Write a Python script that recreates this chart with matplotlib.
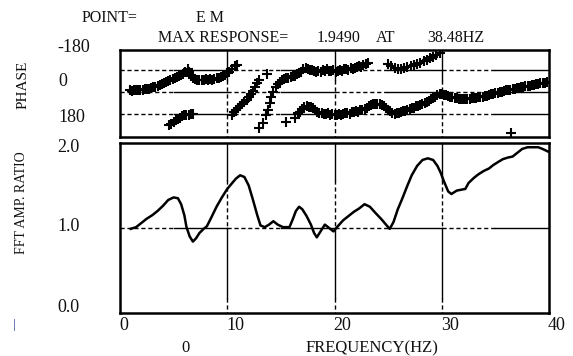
import matplotlib
matplotlib.use('Agg')
import matplotlib.pyplot as plt

plt.rcParams['font.family'] = ['Liberation Serif', 'DejaVu Serif']

# amplitude ratio curve
amp_hz = [1.0, 1.5, 2.0, 2.5, 3.0, 3.5, 4.0, 4.5, 5.0, 5.4, 5.7, 6.0, 6.2, 6.5, 6.8,
          7.1, 7.4, 7.8, 8.1, 8.5, 9.0, 9.5, 10.0, 10.4, 10.8, 11.2, 11.6, 12.0, 12.4,
          12.8, 13.1, 13.5, 13.9, 14.3, 14.7, 15.2, 15.8, 16.1, 16.4, 16.7, 17.0, 17.4,
          17.8, 18.1, 18.35, 18.7, 19.1, 19.5, 19.9, 20.3, 20.8, 21.3, 21.8, 22.3, 22.8,
          23.3, 23.8, 24.4, 24.8, 25.15, 25.5, 25.9, 26.3, 26.8, 27.2, 27.7, 28.2, 28.7,
          29.2, 29.6, 29.9, 30.2, 30.6, 30.9, 31.4, 31.8, 32.2, 32.5, 33.0, 33.4, 33.9,
          34.4, 34.8, 35.3, 35.7, 36.2, 36.6, 37.0, 37.5, 38.0, 38.5, 39.0, 39.4, 39.9]
amp = [0.99, 1.01, 1.06, 1.11, 1.15, 1.20, 1.26, 1.33, 1.36, 1.35, 1.28, 1.15, 1.01, 0.90, 0.84,
       0.88, 0.94, 0.99, 1.02, 1.12, 1.25, 1.36, 1.46, 1.52, 1.58, 1.62, 1.60, 1.50, 1.33,
       1.15, 1.03, 1.01, 1.04, 1.08, 1.04, 1.01, 1.01, 1.10, 1.20, 1.25, 1.22, 1.14,
       1.04, 0.94, 0.89, 0.96, 1.04, 1.00, 0.96, 1.02, 1.09, 1.14, 1.19, 1.23, 1.28,
       1.25, 1.18, 1.10, 1.04, 0.99, 1.07, 1.22, 1.34, 1.50, 1.62, 1.73, 1.80, 1.82,
       1.80, 1.73, 1.65, 1.55, 1.43, 1.40, 1.44, 1.45, 1.46, 1.53, 1.59, 1.63, 1.67,
       1.70, 1.74, 1.78, 1.81, 1.83, 1.84, 1.88, 1.93, 1.95, 1.95, 1.95, 1.93, 1.90]

# phase points (deg), upper branch
phase_up_hz = [0.9, 1.1, 1.3, 1.5, 1.7, 1.9, 2.1, 2.3, 2.5, 2.7, 2.9, 3.1, 3.3, 3.5, 3.7, 3.9,
               4.1, 4.3, 4.5, 4.7, 4.9, 5.1, 5.3, 5.5, 5.7, 5.9, 6.1, 6.3, 6.45, 6.6, 6.8, 7.0,
               7.2, 7.4, 7.6, 7.8, 8.0, 8.2, 8.4, 8.6, 8.8, 9.0, 9.2, 9.4, 9.6, 9.8, 10.0,
               10.2, 10.45, 10.7, 10.9,
               10.4, 10.6, 10.8, 11.0, 11.2, 11.4, 11.6, 11.8, 12.0, 12.2, 12.4, 12.6, 12.8,
               13.0, 13.7,
               13.0, 13.3, 13.6, 13.8, 14.0, 14.1, 14.3, 14.5, 14.7, 14.9, 15.1, 15.3, 15.5,
               15.7, 15.9, 16.1, 16.3, 16.5, 16.7, 16.9, 17.1, 17.3, 17.5, 17.7, 17.9, 18.1,
               18.3, 18.5, 18.7, 18.9, 19.1, 19.3, 19.5, 19.7, 19.9, 20.1, 20.3, 20.5, 20.7,
               20.9, 21.1, 21.3, 21.5, 21.7, 21.9, 22.1, 22.3, 22.5, 22.7, 22.9, 23.1,
               25.0, 25.3, 25.6, 25.9, 26.2, 26.5, 26.8, 27.1, 27.4, 27.7, 28.0, 28.3, 28.6,
               28.9, 29.2, 29.5, 29.8]
phase_up = [-14, -12, -15, -13, -17, -16, -20, -22, -25, -28, -33, -38, -44, -50, -56, -63,
            -72, -80, -90, -98, -107, -115, -122, -132, -140, -150, -165, -185, -165, -135, -118, -108,
            -102, -96, -100, -95, -104, -98, -106, -100, -108, -112, -118, -124, -132, -142, -152,
            -168, -185, -210, -222,
            185, 165, 148, 132, 118, 100, 82, 62, 40, 18, -5, -40, -70,
            -100, -150,
            292, 256, 190, 147, 93, 40, 0, -40, -65, -84, -98, -106, -112,
            -118, -122, -128, -135, -148, -158, -168, -185, -200, -190, -182, -178, -170,
            -162, -175, -168, -178, -172, -188, -176, -170, -182, -165, -172, -178, -176,
            -185, -188, -182, -195, -192, -200, -203, -210, -208, -220, -226, -235,
            -232, -215, -200, -190, -185, -195, -205, -210, -218, -228, -238, -250, -262,
            -275, -290, -305, -322]

# phase points (deg), lower branch
phase_lo_hz = [4.6, 4.8, 5.0, 5.2, 5.4, 5.6, 5.8, 6.0, 6.2, 6.4, 6.6, 6.8,
               15.5, 16.3,
               16.6, 16.8, 17.0, 17.2, 17.4, 17.6, 17.8, 18.0, 18.2, 18.4, 18.6, 18.8, 19.0,
               19.2, 19.4, 19.6, 19.8, 20.0, 20.2, 20.4, 20.6, 20.8, 21.0, 21.2, 21.4, 21.6,
               21.8, 22.0, 22.2, 22.4, 22.6, 22.8, 23.0, 23.2, 23.4, 23.6, 23.8, 24.0, 24.2,
               24.4, 24.6, 24.8, 25.0, 25.2, 25.4, 25.6, 25.8, 26.0, 26.2, 26.4, 26.6, 26.8,
               27.0, 27.2, 27.4, 27.6, 27.8, 28.0, 28.2, 28.4, 28.6, 28.8, 29.0, 29.2, 29.4,
               29.6, 29.8, 30.0, 30.2, 30.4, 30.6, 30.8, 31.0, 31.2, 31.4, 31.6, 31.8, 32.0,
               32.2, 32.4, 32.6, 32.8, 33.0, 33.2, 33.4, 33.6, 33.8, 34.0, 34.2, 34.4, 34.6,
               34.8, 35.0, 35.2, 35.4, 35.6, 35.8, 36.0, 36.2, 36.4, 36.6, 36.8, 37.0, 37.2,
               37.4, 37.6, 37.8, 38.0, 38.2, 38.4, 38.6, 38.8, 39.0, 39.2, 39.4, 39.6, 39.8,
               36.5]
phase_lo = [272, 258, 246, 232, 222, 212, 200, 192, 188, 184, 182, 180,
            243, 215,
            175, 160, 140, 125, 118, 120, 125, 132, 150, 165, 172, 168, 176,
            178, 172, 184, 180, 192, 186, 180, 184, 178, 175, 170, 176, 164,
            160, 156, 160, 150, 148, 140, 130, 118, 108, 102, 100, 100, 102,
            105, 112, 130, 145, 158, 168, 176, 174, 170, 162, 158, 152, 146,
            140, 132, 128, 118, 112, 104, 95, 88, 78, 70, 60, 48, 38,
            28, 18, 14, 22, 28, 35, 40, 44, 48, 52, 56, 58, 60,
            58, 56, 55, 52, 50, 46, 44, 42, 38, 36, 30, 24, 18,
            12, 8, 4, 0, -4, -10, -14, -16, -20, -24, -28, -30, -34,
            -38, -42, -46, -48, -50, -54, -58, -62, -66, -70, -74, -78, -84,
            338]

x_ticks = [0, 10, 20, 30, 40]
x_tick_labels = ['0', '10', '20', '30', '40']

W, H = 573, 356
fig = plt.figure(figsize=(W / 100, H / 100), dpi=100)


def box(l, t, r, b):
    return [l / W, 1 - b / H, (r - l) / W, (b - t) / H]


def put(x, y, s, size=11.5, color='#111111', **kw):
    fig.text(x / W, 1 - y / H, s, fontsize=size, color=color, va='center', **kw)


ax_ph = fig.add_axes(box(120, 50, 549, 137))
ax_amp = fig.add_axes(box(120, 143, 549, 313))

dash = (0, (3, 2))
gk = dict(color='black', lw=1.0, zorder=1)


def hgrid(ax, y):
    # old plotter style: first half of each cell dashed, second half solid
    for x0 in (0, 10, 20, 30):
        ax.plot([x0, x0 + 5], [y, y], ls=dash, **gk)
        ax.plot([x0 + 5, x0 + 10], [y, y], ls='-', **gk)


# phase panel
ax_ph.set_xlim(0, 40)
ax_ph.set_ylim(368, -344)
for y in (-180, 0, 180):
    hgrid(ax_ph, y)
for x in (10, 20, 30):
    ax_ph.plot([x, x], [-344, -100], ls='-', **gk)
    ax_ph.plot([x, x], [-100, 368], ls=dash, **gk)
ax_ph.plot(phase_up_hz, phase_up, ls='none', marker='+', ms=6.5, mew=1.5, color='black', zorder=3)
ax_ph.plot(phase_lo_hz, phase_lo, ls='none', marker='+', ms=6.5, mew=1.5, color='black', zorder=3)

# amplitude panel
ax_amp.set_xlim(0, 40)
ax_amp.set_ylim(0, 2)
hgrid(ax_amp, 1.0)
for x in (10, 20, 30):
    ax_amp.plot([x, x], [2.0, 1.57], ls='-', **gk)
    ax_amp.plot([x, x], [1.57, 1.0], ls=dash, **gk)
    ax_amp.plot([x, x], [1.0, 0.18], ls='-', **gk)
    ax_amp.plot([x, x], [0.18, 0.0], ls=dash, **gk)
ax_amp.plot(amp_hz, amp, color='black', lw=1.8, zorder=3)

for ax in (ax_ph, ax_amp):
    ax.set_xticks([])
    ax.set_yticks([])
    for sp in ax.spines.values():
        sp.set_linewidth(1.8)
        sp.set_color('black')

# header
put(82, 18, 'POINT=')
put(196, 18, 'E M')
put(158, 38, 'MAX RESPONSE=')
put(317, 38, '1.9490')
put(376, 38, 'AT')
put(427, 38, '38.48HZ')

# phase labels
put(57, 47, '-180', size=13)
put(58, 82, '0', size=13)
put(58, 117, '180', size=13)
put(23, 85, 'PHASE', size=11, rotation=90, ha='center')

# amplitude labels
put(57, 147, '2.0', size=13)
put(57, 227, '1.0', size=13)
put(57, 307, '0.0', size=13)
put(22, 203, 'FFT AMP. RATIO', size=10, rotation=90, ha='center')

# x axis labels
for xv, lab in zip(x_ticks, x_tick_labels):
    xp = 120 + xv * (549 - 120) / 40
    put(xp - 1, 325, lab, size=13, ha='left')
put(186, 348, '0', size=12, ha='center')
put(372, 348, 'FREQUENCY(HZ)', size=12, ha='center')
put(14, 325, '|', size=9, color='#1a3c8a', ha='center')

fig.savefig('out.png', dpi=100)
